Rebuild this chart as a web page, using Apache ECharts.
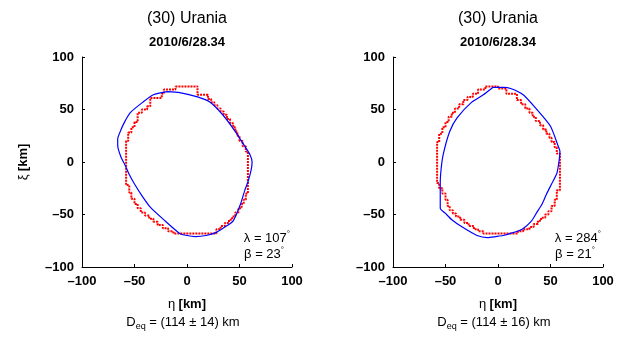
<!DOCTYPE html>
<html>
<head>
<meta charset="utf-8">
<script src="https://cdn.jsdelivr.net/npm/echarts@6/dist/echarts.min.js"></script>
<style>
  html, body { margin: 0; padding: 0; background: #fff; }
  #main { width: 618px; height: 342px; }
</style>
</head>
<body>
<div id="main"></div>
<script>
// (eta, xi) in km
const leftOutline = [
  [-11,72],[10,72],[10,64],[20,64],[20,60],[23,60],[23,57],[26,57],[26,54],[29,54],[29,51],[32,51],
  [32,48],[35,48],[35,45],[38,45],[38,41],[41,41],[41,37],[44,37],[44,33],[46,33],[46,29],[48,29],
  [48,25],[50,25],[50,20],[53,20],[53,15],[56,15],[56,10],[58,10],[58,-30],[56,-30],[56,-36],[54,-36],
  [54,-40],[52,-40],[52,-44],[49,-44],[49,-48],[46,-48],[46,-52],[43,-52],[43,-55],[40,-55],[40,-58],
  [36,-58],[36,-61],[32,-61],[32,-64],[28,-64],[28,-68],[-13,-68],[-13,-66],[-18,-66],[-18,-63],
  [-23,-63],[-23,-60],[-28,-60],[-28,-57],[-32,-57],[-32,-54],[-36,-54],[-36,-51],[-40,-51],[-40,-48],
  [-44,-48],[-44,-44],[-47,-44],[-47,-40],[-50,-40],[-50,-35],[-53,-35],[-53,-29],[-55,-29],[-55,-22],
  [-58,-22],[-58,20],[-56,20],[-56,28],[-53,28],[-53,33],[-50,33],[-50,38],[-47,38],[-47,47],[-43,47],
  [-43,50],[-38,50],[-38,53],[-35,53],[-35,61],[-24,61],[-24,65],[-22,65],[-22,69],[-11,69],[-11,72]
];
const leftModel = [
  [-19,67],[-7,66],[10,62],[22,57],[34,45],[46,29],[55,15],[60,7],[62,0],[61,-8],[58,-19],[55,-27],
  [51,-40],[44,-56],[36,-62],[28,-67],[18,-70],[8,-71],[0,-70],[-7,-68],[-21,-56],[-35,-43],[-43,-32],
  [-50,-21],[-55,-12],[-59,-3],[-63,5],[-66,16],[-66,22],[-64,28],[-60,37],[-54,47],[-42,57],[-32,64],
  [-19,67]
];
const rightOutline = [
  [-12,72],[0,72],[0,70],[8,70],[8,65],[18,65],[18,59],[22,59],[22,55],[26,55],[26,51],[30,51],
  [30,47],[33,47],[33,43],[36,43],[36,39],[40,39],[40,35],[43,35],[43,31],[46,31],[46,27],[49,27],
  [49,23],[51,23],[51,19],[54,19],[54,14],[56,14],[56,8],[59,8],[59,-27],[56,-27],[56,-36],[54,-36],
  [54,-42],[51,-42],[51,-47],[48,-47],[48,-50],[45,-50],[45,-53],[41,-53],[41,-56],[38,-56],[38,-59],
  [34,-59],[34,-62],[30,-62],[30,-64],[24,-64],[24,-66],[19,-66],[19,-68],[-14,-68],[-14,-66],
  [-19,-66],[-19,-64],[-23,-64],[-23,-61],[-28,-61],[-28,-58],[-32,-58],[-32,-55],[-36,-55],[-36,-52],
  [-40,-52],[-40,-49],[-43,-49],[-43,-46],[-46,-46],[-46,-42],[-48,-42],[-48,-36],[-50,-36],[-50,-30],
  [-53,-30],[-53,-25],[-56,-25],[-56,-20],[-58,-20],[-58,19],[-56,19],[-56,27],[-53,27],[-53,33],
  [-50,33],[-50,38],[-47,38],[-47,43],[-44,43],[-44,47],[-41,47],[-41,51],[-37,51],[-37,55],[-33,55],
  [-33,59],[-29,59],[-29,62],[-24,62],[-24,65],[-19,65],[-19,69],[-12,69],[-12,72]
];
const rightModel = [
  [-5,71],[5,71],[12,70],[24,64],[37,50],[50,34],[57,16],[59,10],[58,0],[56,-11],[51,-21],[46,-31],
  [42,-40],[37,-48],[32,-56],[23,-64],[12,-68],[5,-70],[-2,-71],[-10,-72],[-20,-70],[-34,-62],
  [-44,-55],[-50,-49],[-55,-44],[-55,-36],[-55,-20],[-54,-5],[-52,8],[-46,29],[-39,42],[-25,57],
  [-14,64],[-5,71]
];
const panelTitle = "(30) Urania";
const panelDate = "2010/6/28.34";
const lambdas = [107, 284];
const betas = [23, 21];
const diameters = ["114 ± 14", "114 ± 16"];
const axisTicks = { min: -100, max: 100, step: 50 };

const FONT = "'Liberation Sans', Arial, sans-serif";
const chart = echarts.init(document.getElementById("main"), null, { renderer: "canvas" });

const gridLefts = [82, 393];
const minus = (v) => String(v).replace("-", "\u2013");

const axisCommon = {
  type: "value",
  min: axisTicks.min,
  max: axisTicks.max,
  interval: axisTicks.step,
  axisLine: { show: true, onZero: false, lineStyle: { color: "#000", width: 1 } },
  axisTick: { show: true, inside: true, length: 3, lineStyle: { color: "#000" } },
  splitLine: { show: false },
  axisLabel: {
    color: "#000", fontSize: 13, fontWeight: "bold", fontFamily: FONT,
    formatter: minus,
  },
};

const grids = gridLefts.map((l) => ({ left: l, top: 57, width: 210, height: 210 }));

const xAxes = gridLefts.map((_, i) => ({
  ...axisCommon,
  gridIndex: i,
  position: "bottom",
  axisLabel: { ...axisCommon.axisLabel, margin: 8 },
  name: "{g|η} {b|[km]}",
  nameLocation: "middle",
  nameGap: 31,
  nameTextStyle: {
    rich: {
      g: { fontSize: 13, fontFamily: FONT, color: "#000" },
      b: { fontSize: 13, fontWeight: "bold", fontFamily: FONT, color: "#000" },
    },
  },
}));

const yAxes = gridLefts.map((_, i) => ({
  ...axisCommon,
  gridIndex: i,
  position: "left",
  axisLabel: { ...axisCommon.axisLabel, margin: 8 },
  name: i === 0 ? "{g|ξ} {b|[km]}" : "",
  nameLocation: "middle",
  nameRotate: 90,
  nameGap: 52,
  nameTextStyle: {
    rich: {
      g: { fontSize: 13, fontFamily: FONT, color: "#000" },
      b: { fontSize: 13, fontWeight: "bold", fontFamily: FONT, color: "#000" },
    },
  },
}));

const series = [];
[[leftOutline, leftModel], [rightOutline, rightModel]].forEach(([outline, model], i) => {
  series.push({
    type: "line", xAxisIndex: i, yAxisIndex: i, data: outline,
    symbol: "none", silent: true, animation: false,
    lineStyle: { color: "#ff0000", width: 2, type: [2, 1] },
  });
  series.push({
    type: "line", xAxisIndex: i, yAxisIndex: i, data: model,
    symbol: "none", silent: true, animation: false, smooth: 0.2,
    lineStyle: { color: "#0000ff", width: 1.2 },
  });
});

const graphic = [];
gridLefts.forEach((l, i) => {
  const cx = l + 105;
  graphic.push({
    type: "text", x: cx, y: 19,
    style: { text: panelTitle, textAlign: "center", textVerticalAlign: "middle",
      fontSize: 16, fontFamily: FONT, fill: "#000" },
  });
  graphic.push({
    type: "text", x: cx, y: 42,
    style: { text: panelDate, textAlign: "center", textVerticalAlign: "middle",
      fontSize: 13, fontWeight: "bold", fontFamily: FONT, fill: "#000" },
  });
  const rich = {
    n: { fontSize: 13, fontFamily: FONT, fill: "#000", color: "#000" },
    d: { fontSize: 8, fontFamily: FONT, fill: "#000", color: "#000", padding: [0, 0, 8, 0] },
  };
  graphic.push({
    type: "text", x: l + 208, y: 238,
    style: { text: "{n|λ = " + lambdas[i] + "}{d|°}", textAlign: "right", textVerticalAlign: "middle", rich },
  });
  graphic.push({
    type: "text", x: l + 202, y: 254,
    style: { text: "{n|β = " + betas[i] + "}{d|°}", textAlign: "right", textVerticalAlign: "middle", rich },
  });
  graphic.push({
    type: "text", x: cx - 4, y: 322,
    style: {
      text: "{n|D}{s|eq}{n| = (" + diameters[i] + ") km}",
      textAlign: "center", textVerticalAlign: "middle",
      rich: {
        n: { fontSize: 13, fontFamily: FONT, fill: "#000", color: "#000" },
        s: { fontSize: 9, fontFamily: FONT, fill: "#000", color: "#000", padding: [10, 0, 0, 0] },
      },
    },
  });
});

chart.setOption({
  backgroundColor: "#fff",
  animation: false,
  textStyle: { fontFamily: FONT },
  grid: grids,
  xAxis: xAxes,
  yAxis: yAxes,
  series,
  graphic,
});
</script>
</body>
</html>
